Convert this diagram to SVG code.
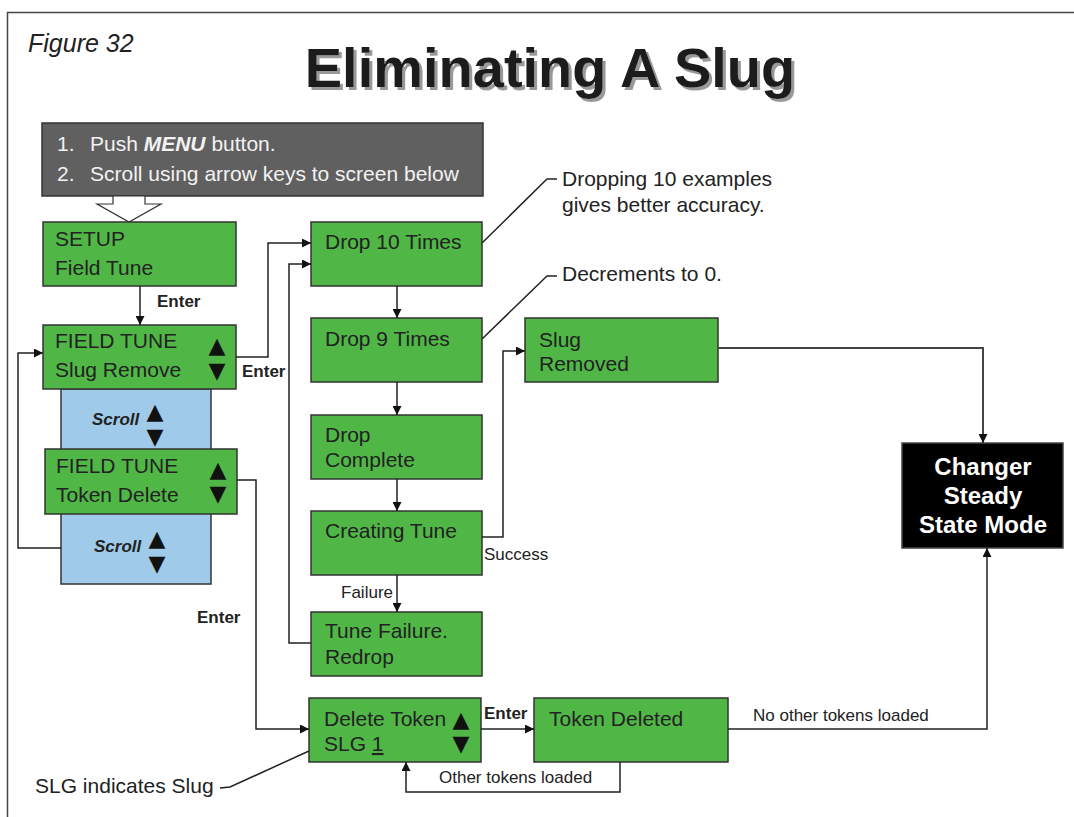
<svg xmlns="http://www.w3.org/2000/svg" width="1074" height="817" viewBox="0 0 1074 817">
<style>
text{font-family:"Liberation Sans",Arial,sans-serif;fill:#222}
.box{fill:#50b747;stroke:#333;stroke-width:1.5}
.t{font-size:21px}
.s{font-size:17px}
.b{font-size:17px;font-weight:bold}
.tri{font-family:"DejaVu Sans","Liberation Sans",sans-serif;font-size:22px;text-anchor:middle;fill:#111}
.c{fill:none;stroke:#222;stroke-width:1.5}
</style>
<defs>
<marker id="ah" viewBox="0 0 10 10" refX="10" refY="5" markerWidth="10" markerHeight="9" markerUnits="userSpaceOnUse" orient="auto"><path d="M0,0 L10,5 L0,10 z" fill="#111"/></marker>
<filter id="shadow" x="-5%" y="-20%" width="110%" height="140%">
<feOffset in="SourceAlpha" dx="3" dy="3" result="o"/>
<feFlood flood-color="#999"/>
<feComposite in2="o" operator="in" result="sh"/>
<feMerge><feMergeNode in="sh"/><feMergeNode in="SourceGraphic"/></feMerge>
</filter>
</defs>
<rect width="1074" height="817" fill="#fff"/>
<rect x="7.5" y="12.5" width="1080" height="820" fill="none" stroke="#444" stroke-width="1.5"/>
<text x="28" y="52" style="font-size:25px;font-style:italic">Figure 32</text>
<text x="550" y="87" text-anchor="middle" filter="url(#shadow)" style="font-size:56px;font-weight:bold;fill:#1a1a1a">Eliminating A Slug</text>

<g id="instructions">
<rect x="42" y="123" width="441" height="73" fill="#606060" stroke="#333" stroke-width="1.5"/>
<text x="57" y="151" class="t" style="fill:#f2f2f2">1.</text>
<text x="90" y="151" class="t" style="fill:#f2f2f2">Push <tspan style="font-weight:bold;font-style:italic">MENU</tspan> button.</text>
<text x="57" y="181" class="t" style="fill:#f2f2f2">2.</text>
<text x="90" y="181" class="t" style="fill:#f2f2f2">Scroll using arrow keys to screen below</text>
<polygon points="113,196 113,204 97,204 129,222 161,204 145,204 145,196" fill="#fff" stroke="#333" stroke-width="1.2"/>
</g>

<g id="scroll-bg">
<rect x="61" y="389" width="150" height="195" fill="#9fcaea" stroke="#333" stroke-width="1.5"/>
<text x="92" y="425" class="b" style="font-style:italic">Scroll</text>
<text x="155" y="419" class="tri">▲</text>
<text x="155" y="444" class="tri">▼</text>
<text x="94" y="552" class="b" style="font-style:italic">Scroll</text>
<text x="157" y="546" class="tri">▲</text>
<text x="157" y="571" class="tri">▼</text>
</g>

<g id="setup">
<rect x="43" y="222" width="193" height="64" class="box"/>
<text x="55" y="246" class="t">SETUP</text>
<text x="55" y="275" class="t">Field Tune</text>
</g>
<g id="slug-remove">
<rect x="43" y="325" width="193" height="64" class="box"/>
<text x="55" y="348" class="t">FIELD TUNE</text>
<text x="55" y="377" class="t">Slug Remove</text>
<text x="217" y="353" class="tri">▲</text>
<text x="217" y="378" class="tri">▼</text>
</g>
<g id="token-delete">
<rect x="45" y="449" width="192" height="65" class="box"/>
<text x="56" y="473" class="t">FIELD TUNE</text>
<text x="56" y="502" class="t">Token Delete</text>
<text x="218" y="477" class="tri">▲</text>
<text x="218" y="501" class="tri">▼</text>
</g>
<g id="drop10">
<rect x="311" y="222" width="171" height="64" class="box"/>
<text x="325" y="249" class="t">Drop 10 Times</text>
</g>
<g id="drop9">
<rect x="311" y="318" width="171" height="64" class="box"/>
<text x="325" y="346" class="t">Drop 9 Times</text>
</g>
<g id="drop-complete">
<rect x="311" y="415" width="171" height="64" class="box"/>
<text x="325" y="442" class="t">Drop</text>
<text x="325" y="467" class="t">Complete</text>
</g>
<g id="creating-tune">
<rect x="311" y="511" width="171" height="64" class="box"/>
<text x="325" y="538" class="t">Creating Tune</text>
</g>
<g id="tune-failure">
<rect x="311" y="612" width="171" height="64" class="box"/>
<text x="325" y="638" class="t">Tune Failure.</text>
<text x="325" y="664" class="t">Redrop</text>
</g>
<g id="slug-removed">
<rect x="525" y="318" width="193" height="64" class="box"/>
<text x="539" y="347" class="t">Slug</text>
<text x="539" y="371" class="t">Removed</text>
</g>
<g id="delete-token">
<rect x="309" y="698" width="172" height="64" class="box"/>
<text x="324" y="726" class="t">Delete Token</text>
<text x="324" y="751" class="t">SLG <tspan text-decoration="underline">1</tspan></text>
<text x="461" y="727" class="tri">▲</text>
<text x="461" y="751" class="tri">▼</text>
</g>
<g id="token-deleted">
<rect x="534" y="698" width="194" height="64" class="box"/>
<text x="549" y="726" class="t">Token Deleted</text>
</g>
<g id="changer">
<rect x="902" y="443" width="161" height="105" fill="#000" stroke="#444" stroke-width="1.5"/>
<text x="983" y="475" text-anchor="middle" style="font-size:24px;font-weight:bold;fill:#fff">Changer</text>
<text x="983" y="504" text-anchor="middle" style="font-size:24px;font-weight:bold;fill:#fff">Steady</text>
<text x="983" y="533" text-anchor="middle" style="font-size:24px;font-weight:bold;fill:#fff">State Mode</text>
</g>

<g id="connectors">
<path class="c" d="M140,286 V325" marker-end="url(#ah)"/>
<path class="c" d="M236,357 H268 V243 H311" marker-end="url(#ah)"/>
<path class="c" d="M61,548 H18 V353 H43" marker-end="url(#ah)"/>
<path class="c" d="M237,480 H256 V729 H309" marker-end="url(#ah)"/>
<path class="c" d="M397,286 V318" marker-end="url(#ah)"/>
<path class="c" d="M397,382 V415" marker-end="url(#ah)"/>
<path class="c" d="M397,479 V511" marker-end="url(#ah)"/>
<path class="c" d="M397,575 V612" marker-end="url(#ah)"/>
<path class="c" d="M311,643 H289 V264 H311" marker-end="url(#ah)"/>
<path class="c" d="M482,537 H503 V351 H525" marker-end="url(#ah)"/>
<path class="c" d="M718,348 H983 V443" marker-end="url(#ah)" style="stroke:#444;stroke-width:2"/>
<path class="c" d="M481,729 H534" marker-end="url(#ah)"/>
<path class="c" d="M620,762 V792 H406 V762" marker-end="url(#ah)"/>
<path class="c" d="M728,729 H987 V548" marker-end="url(#ah)"/>
<path class="c" d="M482,243 L547,179 H557"/>
<path class="c" d="M482,339 L547,276 H557"/>
<path class="c" d="M220,788 L230,787 L309,751"/>
</g>

<g id="labels">
<text x="157" y="307" class="b">Enter</text>
<text x="242" y="377" class="b">Enter</text>
<text x="197" y="623" class="b">Enter</text>
<text x="484" y="719" class="b">Enter</text>
<text x="393" y="598" class="s" text-anchor="end">Failure</text>
<text x="484" y="560" class="s">Success</text>
<text x="439" y="783" class="s">Other tokens loaded</text>
<text x="753" y="721" class="s">No other tokens loaded</text>
<text x="562" y="186" class="t">Dropping 10 examples</text>
<text x="562" y="212" class="t">gives better accuracy.</text>
<text x="562" y="281" class="t">Decrements to 0.</text>
<text x="35" y="793" class="t">SLG indicates Slug</text>
</g>
</svg>
